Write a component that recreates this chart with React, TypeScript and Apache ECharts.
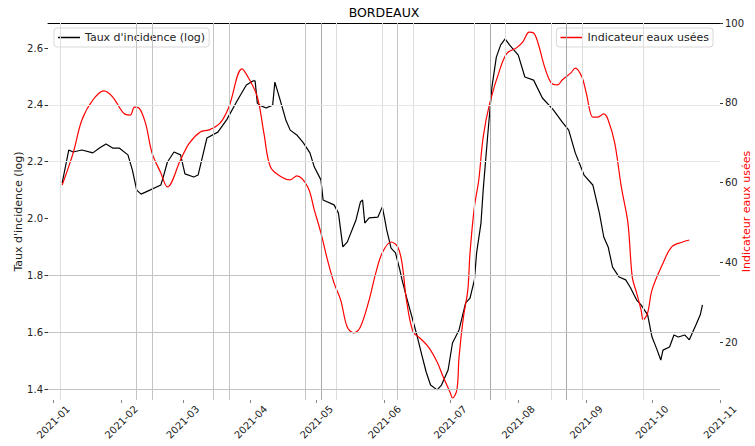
import React, { useEffect, useRef } from 'react';
import * as echarts from 'echarts';

const FONT = 'DejaVu Sans';

const incidenceDates = [
  '2021-01-05', '2021-01-08', '2021-01-10', '2021-01-14', '2021-01-19', '2021-01-22', '2021-01-25', '2021-01-28', '2021-01-31',
  '2021-02-04', '2021-02-06', '2021-02-08', '2021-02-10', '2021-02-14', '2021-02-19', '2021-02-20', '2021-02-22', '2021-02-25', '2021-02-28',
  '2021-03-02', '2021-03-06', '2021-03-08', '2021-03-12', '2021-03-17', '2021-03-21', '2021-03-26', '2021-03-30',
  '2021-04-02', '2021-04-03', '2021-04-04', '2021-04-05', '2021-04-08', '2021-04-11', '2021-04-12', '2021-04-14', '2021-04-17', '2021-04-19', '2021-04-22', '2021-04-25', '2021-04-28', '2021-04-30',
  '2021-05-03', '2021-05-04', '2021-05-09', '2021-05-11', '2021-05-13', '2021-05-15', '2021-05-19', '2021-05-21', '2021-05-22', '2021-05-23', '2021-05-25', '2021-05-29', '2021-05-31',
  '2021-06-01', '2021-06-02', '2021-06-04', '2021-06-06', '2021-06-08', '2021-06-09', '2021-06-11', '2021-06-13', '2021-06-16', '2021-06-18', '2021-06-20', '2021-06-22', '2021-06-25', '2021-06-27', '2021-06-30',
  '2021-07-02', '2021-07-05', '2021-07-08', '2021-07-10', '2021-07-12', '2021-07-13', '2021-07-15', '2021-07-16', '2021-07-18', '2021-07-20', '2021-07-22', '2021-07-24', '2021-07-26', '2021-07-28',
  '2021-08-01', '2021-08-04', '2021-08-08', '2021-08-12', '2021-08-17', '2021-08-21', '2021-08-24', '2021-08-27', '2021-08-31',
  '2021-09-04', '2021-09-07', '2021-09-09', '2021-09-11', '2021-09-13', '2021-09-16', '2021-09-19', '2021-09-21', '2021-09-24', '2021-09-26', '2021-09-29',
  '2021-10-01', '2021-10-03', '2021-10-05', '2021-10-06', '2021-10-09', '2021-10-11', '2021-10-13', '2021-10-16', '2021-10-18', '2021-10-21', '2021-10-23', '2021-10-24',
];
const incidenceValues = [
  2.125, 2.241, 2.234, 2.241, 2.231, 2.248, 2.262, 2.248, 2.248,
  2.224, 2.171, 2.100, 2.086, 2.100, 2.118, 2.143, 2.199, 2.234, 2.224,
  2.157, 2.146, 2.153, 2.283, 2.304, 2.347, 2.417, 2.470,
  2.484, 2.484, 2.406, 2.399, 2.389, 2.399, 2.480, 2.428, 2.347, 2.311, 2.294, 2.266, 2.231, 2.181,
  2.136, 2.065, 2.048, 2.019, 1.900, 1.917, 1.995, 2.058, 2.065, 1.984, 2.002, 2.005, 2.041,
  2.002, 1.960, 1.896, 1.879, 1.819, 1.784, 1.724, 1.668, 1.583, 1.520, 1.460, 1.414, 1.397, 1.414, 1.467,
  1.562, 1.608, 1.703, 1.720, 1.784, 1.879, 1.984, 2.100, 2.287, 2.463, 2.568, 2.611, 2.632, 2.611,
  2.575, 2.498, 2.487, 2.424, 2.382, 2.340, 2.311, 2.231, 2.153,
  2.118, 2.019, 1.935, 1.900, 1.829, 1.794, 1.784, 1.759, 1.713, 1.696, 1.661,
  1.583, 1.544, 1.502, 1.537, 1.548, 1.590, 1.583, 1.590, 1.573, 1.625, 1.661, 1.696,
];

const wastewaterDates = [
  '2021-01-05', '2021-01-10', '2021-01-14', '2021-01-19', '2021-01-24', '2021-01-28',
  '2021-02-02', '2021-02-05', '2021-02-07', '2021-02-09', '2021-02-12', '2021-02-15', '2021-02-19', '2021-02-22', '2021-02-28',
  '2021-03-04', '2021-03-09', '2021-03-13', '2021-03-18', '2021-03-22', '2021-03-28', '2021-03-31',
  '2021-04-04', '2021-04-07', '2021-04-10', '2021-04-15', '2021-04-19', '2021-04-22', '2021-04-27', '2021-04-30',
  '2021-05-03', '2021-05-06', '2021-05-09', '2021-05-12', '2021-05-15', '2021-05-18', '2021-05-21', '2021-05-25', '2021-05-28', '2021-05-31',
  '2021-06-04', '2021-06-07', '2021-06-09', '2021-06-11', '2021-06-14', '2021-06-17', '2021-06-21', '2021-06-25', '2021-06-28',
  '2021-07-01', '2021-07-02', '2021-07-04', '2021-07-05', '2021-07-07', '2021-07-09', '2021-07-10', '2021-07-12', '2021-07-14', '2021-07-16', '2021-07-19', '2021-07-24', '2021-07-27', '2021-07-31',
  '2021-08-03', '2021-08-06', '2021-08-08', '2021-08-10', '2021-08-13', '2021-08-16', '2021-08-19', '2021-08-21', '2021-08-25', '2021-08-27', '2021-08-30',
  '2021-09-01', '2021-09-04', '2021-09-06', '2021-09-09', '2021-09-11', '2021-09-14', '2021-09-17', '2021-09-20', '2021-09-22', '2021-09-24', '2021-09-26', '2021-09-27', '2021-09-29',
  '2021-10-01', '2021-10-06', '2021-10-10', '2021-10-15', '2021-10-18',
];
const wastewaterValues = [
  59.4, 67.4, 75.7, 80.7, 83.0, 81.5,
  77.4, 76.9, 78.9, 78.7, 74.9, 67.4, 62.4, 58.9, 65.7,
  69.9, 72.7, 73.2, 74.9, 78.9, 88.5, 86.2,
  81.5, 72.4, 63.9, 61.4, 60.7, 61.7, 58.9, 53.1,
  47.4, 40.6, 34.8, 30.6, 23.8, 22.3, 23.8, 30.6, 37.3, 42.4,
  45.1, 43.9, 39.8, 30.6, 22.6, 21.1, 18.8, 15.0, 11.0,
  7.3, 6.0, 8.0, 16.3, 26.3, 33.1, 42.4, 53.9, 60.7, 71.4, 79.9, 89.0, 92.5, 93.7,
  95.2, 97.7, 97.5, 95.0, 89.0, 85.0, 84.5, 85.7, 87.5, 88.7, 86.5,
  82.5, 76.4, 76.4, 77.2, 75.7, 69.9, 58.9, 49.9, 36.3, 32.3, 28.1, 25.6, 27.3,
  33.1, 39.8, 43.9, 45.1, 45.6,
];

const monthTicks = [
  '2021-01-01', '2021-02-01', '2021-03-01', '2021-04-01', '2021-05-01', '2021-06-01',
  '2021-07-01', '2021-08-01', '2021-09-01', '2021-10-01', '2021-11-01',
];
const leftTicks = [1.4, 1.6, 1.8, 2.0, 2.2, 2.4, 2.6];
const rightTicks = [20, 40, 60, 80, 100];

const darkWeekLines = ['2021-05-03', '2021-07-19', '2021-08-23'];
const midWeekLines = ['2021-02-08', '2021-02-15', '2021-03-15', '2021-03-22', '2021-04-26', '2021-06-07'];
const lightWeekLines = [
  '2021-01-04', '2021-05-10', '2021-05-31', '2021-06-14', '2021-07-12', '2021-07-26',
  '2021-08-16', '2021-08-30', '2021-09-27',
];
const strongGridValues = [1.4, 1.6, 1.8];
const faintGridValues = [2.2, 2.4];

const parseLocal = (s: string) => {
  const [y, m, d] = s.split('-').map(Number);
  return new Date(y, m - 1, d).getTime();
};

export default function App() {
  const ref = useRef<HTMLDivElement>(null);

  useEffect(() => {
    if (!ref.current) return;
    const chart = echarts.init(ref.current, undefined, { renderer: 'svg' });
    const xMin = new Date(2020, 11, 29, 13).getTime();
    const xMax = parseLocal('2021-11-01');
    const monthValues = monthTicks.map(parseLocal);

    const incidenceData = incidenceDates.map((d, i) => [parseLocal(d), incidenceValues[i]]);
    const wastewaterData = wastewaterDates.map((d, i) => [parseLocal(d), wastewaterValues[i]]);

    const vLine = (dates: string[], color: string) =>
      dates.map((d) => ({ xAxis: parseLocal(d), lineStyle: { color, width: 1, type: 'solid' } }));
    const hLine = (vals: number[], color: string) =>
      vals.map((v) => ({ yAxis: v, lineStyle: { color, width: 1, type: 'solid' } }));

    const textColor = '#222';

    chart.setOption({
      animation: false,
      backgroundColor: '#fff',
      title: {
        text: 'BORDEAUX',
        left: 384,
        top: 6,
        padding: 0,
        textAlign: 'center',
        textStyle: { fontFamily: FONT, fontSize: 12.5, fontWeight: 'normal', color: '#000' },
      },
      legend: [
        {
          data: ["Taux d'incidence (log)"],
          left: 54,
          top: 28,
          padding: [4, 4, 4, 4],
          borderColor: '#d9d9d9',
          borderWidth: 1,
          borderRadius: 3,
          backgroundColor: 'rgba(255,255,255,0.85)',
          icon: 'rect',
          itemWidth: 22,
          itemHeight: 1.5,
          textStyle: { fontFamily: FONT, fontSize: 11, color: textColor },
        },
        {
          data: ['Indicateur eaux usées'],
          right: 42,
          top: 28,
          padding: [4, 4, 4, 4],
          borderColor: '#d9d9d9',
          borderWidth: 1,
          borderRadius: 3,
          backgroundColor: 'rgba(255,255,255,0.85)',
          icon: 'rect',
          itemWidth: 22,
          itemHeight: 1.5,
          textStyle: { fontFamily: FONT, fontSize: 11, color: textColor },
        },
      ],
      grid: { left: 48, right: 35, top: 23, bottom: 46, containLabel: false, outerBoundsMode: 'none' },
      xAxis: [
        {
          type: 'value',
          min: xMin,
          max: xMax,
          position: 'bottom',
          axisLine: { show: false },
          axisTick: { show: true, length: 3, customValues: monthValues, lineStyle: { color: '#888' } },
          axisLabel: {
            customValues: monthValues,
            rotate: 45,
            align: 'center',
            verticalAlign: 'middle',
            margin: 22,
            fontFamily: FONT,
            fontSize: 10,
            color: textColor,
            formatter: (v: number) => {
              const dt = new Date(v);
              return dt.getFullYear() + '-' + String(dt.getMonth() + 1).padStart(2, '0');
            },
          },
          splitLine: { show: false },
        },
        {
          type: 'value',
          min: xMin,
          max: xMax,
          position: 'top',
          axisLine: { show: true, lineStyle: { color: '#000', width: 1 } },
          axisTick: { show: false },
          axisLabel: { show: false },
          splitLine: { show: false },
        },
      ],
      yAxis: [
        {
          type: 'value',
          position: 'left',
          min: 1.3614,
          max: 2.688,
          name: "Taux d'incidence (log)",
          nameLocation: 'middle',
          nameMoveOverlap: false,
          nameGap: 24,
          nameTextStyle: { fontFamily: FONT, fontSize: 11, color: textColor },
          axisLine: { show: false },
          axisTick: { show: true, length: 3.5, customValues: leftTicks, lineStyle: { color: '#333' } },
          axisLabel: {
            customValues: leftTicks,
            margin: 5,
            fontFamily: FONT,
            fontSize: 10,
            color: textColor,
            formatter: (v: number) => v.toFixed(1),
          },
          splitLine: { show: false },
        },
        {
          type: 'value',
          position: 'right',
          min: 5.5,
          max: 100,
          name: 'Indicateur eaux usées',
          nameLocation: 'middle',
          nameRotate: 90,
          nameMoveOverlap: false,
          nameGap: 21,
          nameTextStyle: { fontFamily: FONT, fontSize: 11, color: '#ff0000' },
          axisLine: { show: false },
          axisTick: { show: true, length: 3, customValues: rightTicks, lineStyle: { color: '#333' } },
          axisLabel: {
            customValues: rightTicks,
            margin: 5,
            fontFamily: FONT,
            fontSize: 10,
            color: textColor,
          },
          splitLine: { show: false },
        },
      ],
      series: [
        {
          name: 'grid',
          type: 'line',
          xAxisIndex: 0,
          yAxisIndex: 0,
          data: [],
          z: 1,
          silent: true,
          markLine: {
            silent: true,
            symbol: ['none', 'none'],
            label: { show: false },
            emphasis: { disabled: true },
            data: [
              ...vLine(lightWeekLines, '#dedede'),
              ...vLine(midWeekLines, '#c4c4c4'),
              ...vLine(darkWeekLines, '#a8a8a8'),
              ...hLine(faintGridValues, '#e6e6e6'),
              ...hLine(strongGridValues, '#c4c4c4'),
            ],
          },
        },
        {
          name: "Taux d'incidence (log)",
          type: 'line',
          xAxisIndex: 0,
          yAxisIndex: 0,
          data: incidenceData,
          showSymbol: false,
          symbol: 'none',
          z: 3,
          color: '#000',
          lineStyle: { color: '#000', width: 1.2 },
        },
        {
          name: 'Indicateur eaux usées',
          type: 'line',
          xAxisIndex: 0,
          yAxisIndex: 1,
          data: wastewaterData,
          showSymbol: false,
          symbol: 'none',
          smooth: 0.35,
          z: 4,
          color: '#ff0000',
          lineStyle: { color: '#ff0000', width: 1.2 },
        },
      ],
    });

    return () => chart.dispose();
  }, []);

  return (
    <div
      ref={ref}
      style={{ position: 'fixed', left: 0, top: 0, width: 755, height: 446, background: '#fff' }}
    />
  );
}
